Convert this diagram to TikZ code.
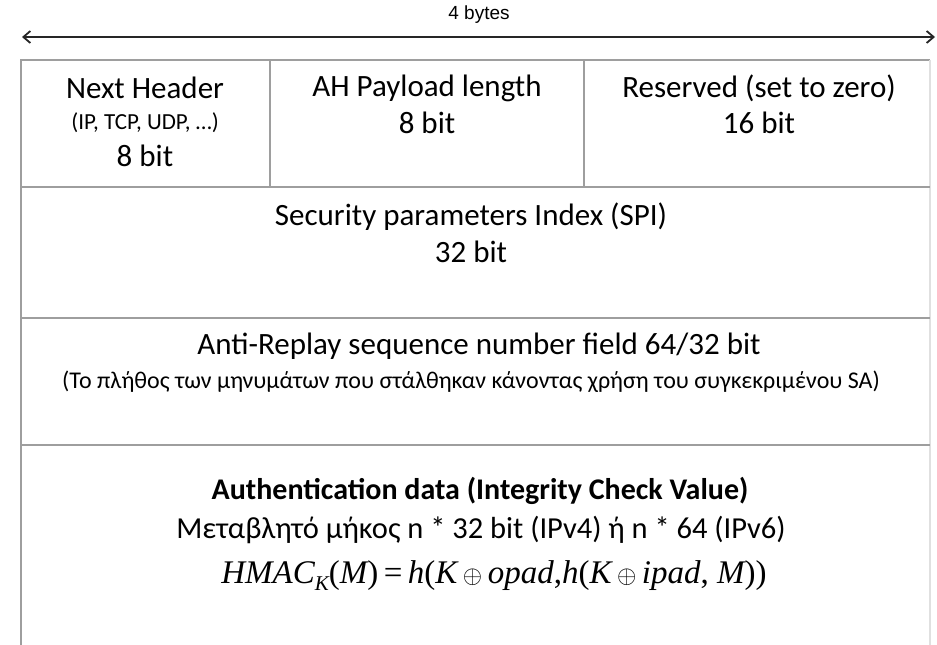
\documentclass[tikz,border=0pt]{standalone}
\usepackage{fontspec}
\setmainfont{Carlito}
\newfontfamily\arialf{Liberation Sans}
\newfontfamily\timesf{Liberation Serif}
\usetikzlibrary{arrows.meta}
\tikzset{
  grid/.style={draw=black!38, line width=1.4pt},
  big/.style={font=\fontsize{31}{31}\selectfont, inner sep=0pt, anchor=center},
  small/.style={font=\fontsize{23}{23}\selectfont, inner sep=0pt, anchor=center},
  dimarrow/.style={draw=black!85, line width=1.8pt, {Straight Barb[length=7pt,width=12pt]}-{Straight Barb[length=7pt,width=12pt]}}
}
\begin{document}
\begin{tikzpicture}[x=1pt,y=-1pt]
\useasboundingbox (0,0) rectangle (937,645);
% dimension arrow
\coordinate (al) at (22,37);
\coordinate (ar) at (935,37);
\draw[dimarrow] (al) -- (ar);
\node[inner sep=0pt, font=\arialf\fontsize{19}{19}\selectfont] (bytes) at (479,15) {4 bytes};
% table frame
\coordinate (tl) at (21,60);
\coordinate (tr) at (930,60);
\coordinate (bl) at (21,645);
\coordinate (br) at (930,645);
\draw[grid] (bl) -- (tl) -- (tr);
\draw[draw=black!12, line width=1.2pt] (tr) -- (br);
\draw[grid] (21,187) coordinate (h1l) -- (930,187) coordinate (h1r);
\draw[grid] (21,318) coordinate (h2l) -- (930,318) coordinate (h2r);
\draw[grid] (21,445) coordinate (h3l) -- (930,445) coordinate (h3r);
\draw[grid] (270,60) coordinate (v1t) -- (270,187) coordinate (v1b);
\draw[grid] (584,60) coordinate (v2t) -- (584,187) coordinate (v2b);
% row 1
\node[big] (nh) at (145,88) {Next Header};
\node[small] (nhp) at (145,123) {(IP, TCP, UDP, …)};
\node[big] (nhb) at (145,156) {8 bit};
\node[big] (ah) at (427,88) {AH Payload length};
\node[big] (ahb) at (427,123) {8 bit};
\node[big] (rs) at (759,88) {Reserved (set to zero)};
\node[big] (rsb) at (759,123) {16 bit};
% row 2
\node[big] (spi) at (471,217) {Security parameters Index (SPI)};
\node[big] (spib) at (471,252) {32 bit};
% row 3
\node[big] (ar1) at (479,346) {Anti-Replay sequence number field 64/32 bit};
\node[small, font=\fontsize{24}{24}\selectfont] (ar2) at (471,382) {(Το πλήθος των μηνυμάτων που στάλθηκαν κάνοντας χρήση του συγκεκριμένου SA)};
% row 4
\node[big, font=\bfseries\fontsize{30}{30}\selectfont] (au1) at (480,491) {Authentication data (Integrity Check Value)};
\node[big, font=\fontsize{30.5}{30.5}\selectfont] (au2) at (481,530) {Μεταβλητό μήκος n * 32 bit (IPv4) ή n * 64 (IPv6)};
\node[inner sep=0pt, font=\timesf\fontsize{33}{33}\selectfont] (hm) at (494,576)
  {\itshape HMAC\raisebox{-0.45ex}{\fontsize{21}{21}\selectfont K}\upshape(\itshape M\upshape)\,=\,\itshape h\upshape(\itshape K\,$\oplus$\,opad\upshape,\itshape h\upshape(\itshape K\,$\oplus$\,ipad\upshape, \itshape M\upshape))};
\end{tikzpicture}
\end{document}
